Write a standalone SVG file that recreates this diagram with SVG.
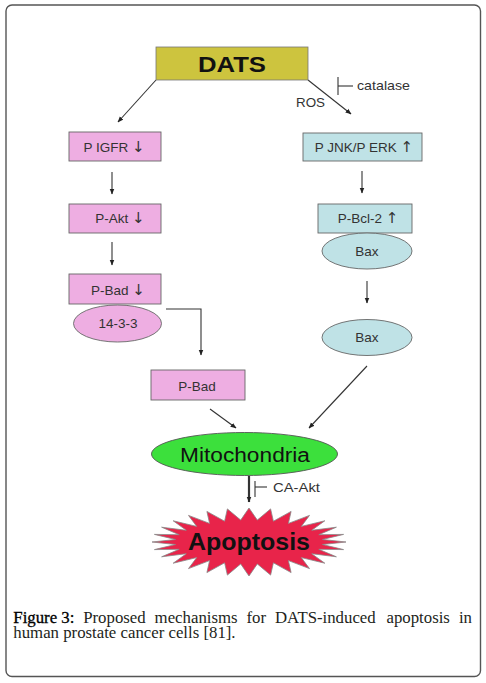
<svg xmlns="http://www.w3.org/2000/svg" width="486" height="683" viewBox="0 0 486 683">
<defs>
<marker id="ah" viewBox="0 0 10 10" refX="9" refY="5" markerWidth="6" markerHeight="6" orient="auto" markerUnits="userSpaceOnUse">
<path d="M0,1 L10,5 L0,9 Z" fill="#222"/>
</marker>
<style>
.lbl{font-family:"Liberation Sans",Arial,sans-serif;font-size:13.5px;fill:#333;text-anchor:middle}
.arr{font-family:"DejaVu Sans",sans-serif;font-size:15px}
.pink{fill:#eeaee2;stroke:#666;stroke-width:0.9}
.blue{fill:#bfe2e6;stroke:#666;stroke-width:0.9}
.con{stroke:#333;stroke-width:1.1;fill:none}
.cap{font-family:"Liberation Serif","Times New Roman",serif;font-size:16.8px;fill:#231f20}
</style>
</defs>
<rect width="486" height="683" fill="#fff"/>
<rect x="6" y="5" width="474.5" height="671.5" rx="6" fill="none" stroke="#555" stroke-width="1.4"/>

<g id="connectors">
<line class="con" x1="156" y1="80" x2="118" y2="122" marker-end="url(#ah)"/>
<line class="con" x1="308" y1="80" x2="351" y2="114" marker-end="url(#ah)"/>
<line class="con" x1="338" y1="77" x2="338" y2="95"/>
<line class="con" x1="338" y1="86" x2="353" y2="86"/>
<line class="con" x1="112" y1="172" x2="112" y2="194" marker-end="url(#ah)"/>
<line class="con" x1="112" y1="242" x2="112" y2="265" marker-end="url(#ah)"/>
<polyline class="con" points="166,309 201,309 201,355" marker-end="url(#ah)"/>
<line class="con" x1="210" y1="409" x2="236" y2="428" marker-end="url(#ah)"/>
<line class="con" x1="367" y1="366" x2="309" y2="428" marker-end="url(#ah)"/>
<line class="con" x1="362" y1="171" x2="362" y2="193" marker-end="url(#ah)"/>
<line class="con" x1="367" y1="281" x2="367" y2="303" marker-end="url(#ah)"/>
<line x1="249" y1="476" x2="249" y2="502" stroke="#333" stroke-width="2.2" marker-end="url(#ah)"/>
<line class="con" x1="255" y1="481" x2="255" y2="497"/>
<line class="con" x1="255" y1="487" x2="267" y2="487"/>
<text class="lbl" x="357" y="90" style="text-anchor:start" textLength="53" lengthAdjust="spacingAndGlyphs">catalase</text>
<text class="lbl" x="296" y="107" style="text-anchor:start" textLength="29" lengthAdjust="spacingAndGlyphs">ROS</text>
<text class="lbl" x="273" y="492" style="text-anchor:start" textLength="47" lengthAdjust="spacingAndGlyphs">CA-Akt</text>
</g>

<g id="dats">
<rect x="156" y="47" width="152" height="33" fill="#cdc43e" stroke="#777" stroke-width="0.8"/>
<text x="232" y="72" font-family="Liberation Sans,Arial,sans-serif" font-weight="bold" font-size="22" fill="#111" text-anchor="middle" textLength="68" lengthAdjust="spacingAndGlyphs">DATS</text>
</g>

<g id="pigfr">
<rect class="pink" x="69" y="132" width="92" height="29"/>
<text class="lbl" x="114" y="152">P IGFR <tspan class="arr">↓</tspan></text>
</g>
<g id="pakt">
<rect class="pink" x="69" y="204" width="92" height="29"/>
<text class="lbl" x="120" y="223">P-Akt  <tspan class="arr">↓</tspan></text>
</g>
<g id="pbad1">
<rect class="pink" x="69" y="274" width="92" height="30"/>
<text class="lbl" x="118" y="295">P-Bad <tspan class="arr">↓</tspan></text>
</g>
<g id="n1433">
<ellipse class="pink" cx="117.5" cy="323.5" rx="44" ry="18.5"/>
<text class="lbl" x="118" y="328">14-3-3</text>
</g>
<g id="pbad2">
<rect class="pink" x="151" y="370" width="94" height="30"/>
<text class="lbl" x="197" y="391">P-Bad</text>
</g>

<g id="pjnk">
<rect class="blue" x="303" y="133" width="119" height="28"/>
<text class="lbl" x="364" y="152">P JNK/P ERK <tspan class="arr">↑</tspan></text>
</g>
<g id="pbcl2">
<rect class="blue" x="318" y="204" width="94" height="29"/>
<text class="lbl" x="368" y="223">P-Bcl-2 <tspan class="arr">↑</tspan></text>
</g>
<g id="bax1">
<ellipse class="blue" cx="367" cy="251" rx="45" ry="18"/>
<text class="lbl" x="367" y="256">Bax</text>
</g>
<g id="bax2">
<ellipse class="blue" cx="367" cy="337.5" rx="45" ry="18"/>
<text class="lbl" x="367" y="342">Bax</text>
</g>

<g id="mitochondria">
<ellipse cx="244.5" cy="454" rx="93" ry="21.5" fill="#3ce03c" stroke="#555" stroke-width="0.9"/>
<text x="245" y="462" font-family="Liberation Sans,Arial,sans-serif" font-size="20" fill="#111" text-anchor="middle" textLength="130" lengthAdjust="spacingAndGlyphs">Mitochondria</text>
</g>

<g id="apoptosis">
<polygon fill="#e8244a" stroke="#888" stroke-width="0.8" points="346,542 322.5,544.5 343.6,549.6 318.8,549.3 336.4,556.8 311.7,553.7 324.8,563.2 301.3,557.6 309.5,568.6 288.4,560.6 291.1,572.6 273.4,562.8 270.6,575.1 257.3,563.9 249,576 240.7,563.9 227.4,575.1 224.6,562.8 206.9,572.6 209.6,560.6 188.5,568.6 196.7,557.6 173.2,563.2 186.3,553.7 161.6,556.8 179.2,549.3 154.4,549.6 175.5,544.5 152,542 175.5,539.5 154.4,534.4 179.2,534.7 161.6,527.2 186.3,530.3 173.2,520.8 196.7,526.4 188.5,515.4 209.6,523.4 206.9,511.4 224.6,521.2 227.4,508.9 240.7,520.1 249,508 257.3,520.1 270.6,508.9 273.4,521.2 291.1,511.4 288.4,523.4 309.5,515.4 301.3,526.4 324.8,520.8 311.7,530.3 336.4,527.2 318.8,534.7 343.6,534.4 322.5,539.5"/>
<text x="249" y="550" font-family="Liberation Sans,Arial,sans-serif" font-weight="bold" font-size="24" fill="#111" text-anchor="middle" textLength="122" lengthAdjust="spacingAndGlyphs">Apoptosis</text>
</g>

<g id="caption">
<text class="cap"><tspan x="13.3" y="623" fill="#000" stroke="#000" stroke-width="0.3">Figure 3:</tspan><tspan x="83.2" y="623">Proposed</tspan><tspan x="154.6" y="623">mechanisms</tspan><tspan x="246.5" y="623">for</tspan><tspan x="275" y="623">DATS-induced</tspan><tspan x="386.5" y="623">apoptosis</tspan><tspan x="458.9" y="623">in</tspan><tspan x="13.3" y="638">human prostate cancer cells [81].</tspan></text>
</g>
</svg>
